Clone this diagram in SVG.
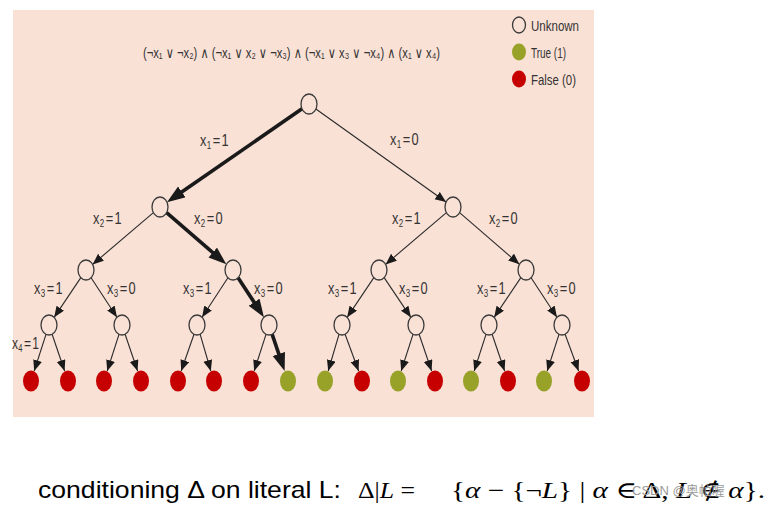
<svg xmlns="http://www.w3.org/2000/svg" width="773" height="507" viewBox="0 0 773 507">
<style>
.bg{fill:#fae1d6}
.unk{fill:none;stroke:#3a3a3a;stroke-width:1.3}
.unkf{fill:#fae1d6;stroke:#3a3a3a;stroke-width:1.3}
.red{fill:#c60000}
.grn{fill:#98a228}
.thin{stroke:#2a2a2a;stroke-width:1.1;fill:none;marker-end:url(#ah)}
.thick{stroke:#1a1a1a;stroke-width:3.6;fill:none;marker-end:url(#ahb)}
.lbl{font-family:"Liberation Sans","DejaVu Sans",sans-serif;font-size:16px;fill:#333}
.sub{font-size:10px}
.fml{font-family:"Liberation Sans","DejaVu Sans",sans-serif;font-size:14.5px;fill:#333}
.leg{font-family:"Liberation Sans","DejaVu Sans",sans-serif;font-size:14.5px;fill:#333}
.cap{font-family:"Liberation Sans","DejaVu Sans",sans-serif;font-size:24px;fill:#000}
.math{font-family:"Liberation Serif","DejaVu Serif",serif;font-size:23px;fill:#000}
.wm{font-family:"Liberation Sans","Noto Sans CJK SC",sans-serif;font-size:13px;fill:#9a9a9a}
</style>
<defs>
<marker id="ah" markerUnits="userSpaceOnUse" markerWidth="12" markerHeight="10" refX="11" refY="4.5" orient="auto">
<path d="M0,0 L11,4.5 L0,9 z" fill="#1a1a1a"/>
</marker>
<marker id="ahb" markerUnits="userSpaceOnUse" markerWidth="19" markerHeight="14" refX="8" refY="6.5" orient="auto">
<path d="M0,0 L18,6.5 L0,13 z" fill="#1a1a1a"/>
</marker>
</defs>
<rect class="bg" x="13" y="10" width="581" height="407"/>

<g id="formula">
<text class="fml" x="143" y="57.5" textLength="297" lengthAdjust="spacingAndGlyphs">(¬x₁ ∨ ¬x₂) ∧ (¬x₁ ∨ x₂ ∨ ¬x₃) ∧ (¬x₁ ∨ x₃ ∨ ¬x₄) ∧ (x₁ ∨ x₄)</text>
</g>

<g id="legend">
<ellipse class="unk" cx="519" cy="25" rx="6.5" ry="8"/>
<text class="leg" x="531" y="30.5" textLength="48" lengthAdjust="spacingAndGlyphs">Unknown</text>
<ellipse class="grn" cx="519" cy="52" rx="7" ry="8.5"/>
<text class="leg" x="531" y="57.5" textLength="35" lengthAdjust="spacingAndGlyphs">True (1)</text>
<ellipse class="red" cx="519" cy="79" rx="7" ry="8.5"/>
<text class="leg" x="531" y="84.5" textLength="45" lengthAdjust="spacingAndGlyphs">False (0)</text>
</g>

<g id="connectors">
<line class="thick" x1="302" y1="108.8" x2="175.2" y2="196.5"/>
<line class="thin" x1="315.9" y1="109" x2="446.1" y2="202"/>
<line class="thin" x1="153.4" y1="212.6" x2="92.6" y2="264.4"/>
<line class="thick" x1="166.6" y1="212.7" x2="218.8" y2="257.8"/>
<line class="thin" x1="446.4" y1="212.6" x2="385.6" y2="264.4"/>
<line class="thin" x1="459.6" y1="212.7" x2="519.4" y2="264.3"/>
<line class="thin" x1="80.85" y1="277.65" x2="54.15" y2="317.35"/>
<line class="thin" x1="91.07" y1="277.74" x2="116.93" y2="317.26"/>
<line class="thin" x1="227.93" y1="277.74" x2="202.07" y2="317.26"/>
<line class="thick" x1="238.07" y1="277.74" x2="258.45" y2="308.9"/>
<line class="thin" x1="373.85" y1="277.65" x2="347.15" y2="317.35"/>
<line class="thin" x1="384.15" y1="277.65" x2="410.85" y2="317.35"/>
<line class="thin" x1="520.85" y1="277.65" x2="494.15" y2="317.35"/>
<line class="thin" x1="531.07" y1="277.74" x2="556.93" y2="317.26"/>
<line class="thin" x1="46" y1="334.3" x2="34.2" y2="371"/>
<line class="thin" x1="52.1" y1="334.2" x2="64.6" y2="371"/>
<line class="thin" x1="119" y1="334.3" x2="107.2" y2="371"/>
<line class="thin" x1="125.1" y1="334.2" x2="137.6" y2="371"/>
<line class="thin" x1="194" y1="334.3" x2="181.2" y2="371"/>
<line class="thin" x1="200.1" y1="334.2" x2="210.8" y2="371"/>
<line class="thin" x1="266" y1="334.3" x2="254.2" y2="371"/>
<line class="thick" x1="272.1" y1="334.2" x2="281.4" y2="361.6"/>
<line class="thin" x1="339" y1="334.3" x2="328.2" y2="371"/>
<line class="thin" x1="345.1" y1="334.2" x2="358.6" y2="371"/>
<line class="thin" x1="413" y1="334.3" x2="401.2" y2="371"/>
<line class="thin" x1="419.1" y1="334.2" x2="431.6" y2="371"/>
<line class="thin" x1="486" y1="334.3" x2="474.2" y2="371"/>
<line class="thin" x1="492.1" y1="334.2" x2="504.6" y2="371"/>
<line class="thin" x1="559" y1="334.3" x2="547.2" y2="371"/>
<line class="thin" x1="565.1" y1="334.2" x2="578.6" y2="371"/>
</g>

<g id="labels">
<text class="lbl" transform="translate(200,146) scale(0.8,1)"><tspan x="0">x</tspan><tspan class="sub" x="8.5" dy="2.5">1</tspan><tspan x="16" dy="-2.5">=</tspan><tspan x="27">1</tspan></text>
<text class="lbl" transform="translate(390,145) scale(0.8,1)"><tspan x="0">x</tspan><tspan class="sub" x="8.5" dy="2.5">1</tspan><tspan x="16" dy="-2.5">=</tspan><tspan x="27">0</tspan></text>
<text class="lbl" transform="translate(93,224) scale(0.8,1)"><tspan x="0">x</tspan><tspan class="sub" x="8.5" dy="2.5">2</tspan><tspan x="16" dy="-2.5">=</tspan><tspan x="27">1</tspan></text>
<text class="lbl" transform="translate(194,224) scale(0.8,1)"><tspan x="0">x</tspan><tspan class="sub" x="8.5" dy="2.5">2</tspan><tspan x="16" dy="-2.5">=</tspan><tspan x="27">0</tspan></text>
<text class="lbl" transform="translate(392,224) scale(0.8,1)"><tspan x="0">x</tspan><tspan class="sub" x="8.5" dy="2.5">2</tspan><tspan x="16" dy="-2.5">=</tspan><tspan x="27">1</tspan></text>
<text class="lbl" transform="translate(489,224) scale(0.8,1)"><tspan x="0">x</tspan><tspan class="sub" x="8.5" dy="2.5">2</tspan><tspan x="16" dy="-2.5">=</tspan><tspan x="27">0</tspan></text>
<text class="lbl" transform="translate(34,294) scale(0.8,1)"><tspan x="0">x</tspan><tspan class="sub" x="8.5" dy="2.5">3</tspan><tspan x="16" dy="-2.5">=</tspan><tspan x="27">1</tspan></text>
<text class="lbl" transform="translate(107,294) scale(0.8,1)"><tspan x="0">x</tspan><tspan class="sub" x="8.5" dy="2.5">3</tspan><tspan x="16" dy="-2.5">=</tspan><tspan x="27">0</tspan></text>
<text class="lbl" transform="translate(183,294) scale(0.8,1)"><tspan x="0">x</tspan><tspan class="sub" x="8.5" dy="2.5">3</tspan><tspan x="16" dy="-2.5">=</tspan><tspan x="27">1</tspan></text>
<text class="lbl" transform="translate(254,294) scale(0.8,1)"><tspan x="0">x</tspan><tspan class="sub" x="8.5" dy="2.5">3</tspan><tspan x="16" dy="-2.5">=</tspan><tspan x="27">0</tspan></text>
<text class="lbl" transform="translate(328,294) scale(0.8,1)"><tspan x="0">x</tspan><tspan class="sub" x="8.5" dy="2.5">3</tspan><tspan x="16" dy="-2.5">=</tspan><tspan x="27">1</tspan></text>
<text class="lbl" transform="translate(399,294) scale(0.8,1)"><tspan x="0">x</tspan><tspan class="sub" x="8.5" dy="2.5">3</tspan><tspan x="16" dy="-2.5">=</tspan><tspan x="27">0</tspan></text>
<text class="lbl" transform="translate(477,294) scale(0.8,1)"><tspan x="0">x</tspan><tspan class="sub" x="8.5" dy="2.5">3</tspan><tspan x="16" dy="-2.5">=</tspan><tspan x="27">1</tspan></text>
<text class="lbl" transform="translate(547,294) scale(0.8,1)"><tspan x="0">x</tspan><tspan class="sub" x="8.5" dy="2.5">3</tspan><tspan x="16" dy="-2.5">=</tspan><tspan x="27">0</tspan></text>
<text class="lbl" transform="translate(12,349) scale(0.75,1)"><tspan x="0">x</tspan><tspan class="sub" x="8.5" dy="2.5">4</tspan><tspan x="16" dy="-2.5">=</tspan><tspan x="27">1</tspan></text>
</g>

<g id="n0"><ellipse class="unkf" cx="309" cy="104" rx="8" ry="10"/></g>
<g id="n1"><ellipse class="unkf" cx="160" cy="207" rx="8" ry="10"/></g>
<g id="n2"><ellipse class="unkf" cx="453" cy="207" rx="8" ry="10"/></g>
<g id="n3"><ellipse class="unkf" cx="86" cy="270" rx="8" ry="10"/></g>
<g id="n4"><ellipse class="unkf" cx="233" cy="270" rx="8" ry="10"/></g>
<g id="n5"><ellipse class="unkf" cx="379" cy="270" rx="8" ry="10"/></g>
<g id="n6"><ellipse class="unkf" cx="526" cy="270" rx="8" ry="10"/></g>
<g id="n7"><ellipse class="unkf" cx="49" cy="325" rx="8" ry="10"/></g>
<g id="n8"><ellipse class="unkf" cx="122" cy="325" rx="8" ry="10"/></g>
<g id="n9"><ellipse class="unkf" cx="197" cy="325" rx="8" ry="10"/></g>
<g id="n10"><ellipse class="unkf" cx="269" cy="325" rx="8" ry="10"/></g>
<g id="n11"><ellipse class="unkf" cx="342" cy="325" rx="8" ry="10"/></g>
<g id="n12"><ellipse class="unkf" cx="416" cy="325" rx="8" ry="10"/></g>
<g id="n13"><ellipse class="unkf" cx="489" cy="325" rx="8" ry="10"/></g>
<g id="n14"><ellipse class="unkf" cx="562" cy="325" rx="8" ry="10"/></g>

<g id="leaf1"><ellipse class="red" cx="31" cy="381" rx="8" ry="10.5"/></g>
<g id="leaf2"><ellipse class="red" cx="68" cy="381" rx="8" ry="10.5"/></g>
<g id="leaf3"><ellipse class="red" cx="104" cy="381" rx="8" ry="10.5"/></g>
<g id="leaf4"><ellipse class="red" cx="141" cy="381" rx="8" ry="10.5"/></g>
<g id="leaf5"><ellipse class="red" cx="178" cy="381" rx="8" ry="10.5"/></g>
<g id="leaf6"><ellipse class="red" cx="214" cy="381" rx="8" ry="10.5"/></g>
<g id="leaf7"><ellipse class="red" cx="251" cy="381" rx="8" ry="10.5"/></g>
<g id="leaf8"><ellipse class="grn" cx="288" cy="381" rx="8" ry="10.5"/></g>
<g id="leaf9"><ellipse class="grn" cx="325" cy="381" rx="8" ry="10.5"/></g>
<g id="leaf10"><ellipse class="red" cx="362" cy="381" rx="8" ry="10.5"/></g>
<g id="leaf11"><ellipse class="grn" cx="398" cy="381" rx="8" ry="10.5"/></g>
<g id="leaf12"><ellipse class="red" cx="435" cy="381" rx="8" ry="10.5"/></g>
<g id="leaf13"><ellipse class="grn" cx="471" cy="381" rx="8" ry="10.5"/></g>
<g id="leaf14"><ellipse class="red" cx="508" cy="381" rx="8" ry="10.5"/></g>
<g id="leaf15"><ellipse class="grn" cx="544" cy="381" rx="8" ry="10.5"/></g>
<g id="leaf16"><ellipse class="red" cx="582" cy="381" rx="8" ry="10.5"/></g>

<g id="caption">
<text class="cap" x="38" y="498" textLength="303" lengthAdjust="spacingAndGlyphs">conditioning Δ on literal L:</text>
<text class="math" x="358" y="498" textLength="57" lengthAdjust="spacingAndGlyphs">Δ|<tspan font-style="italic">L</tspan> =</text>
<text class="math" x="451" y="498" textLength="314" lengthAdjust="spacingAndGlyphs">{<tspan font-style="italic">α</tspan> − {¬<tspan font-style="italic">L</tspan>} | <tspan font-style="italic">α</tspan> ∈ Δ, <tspan font-style="italic">L</tspan> ∉ <tspan font-style="italic">α</tspan>}.</text>
<text class="wm" x="632" y="495">CSDN @奥帕喔</text>
</g>
</svg>
